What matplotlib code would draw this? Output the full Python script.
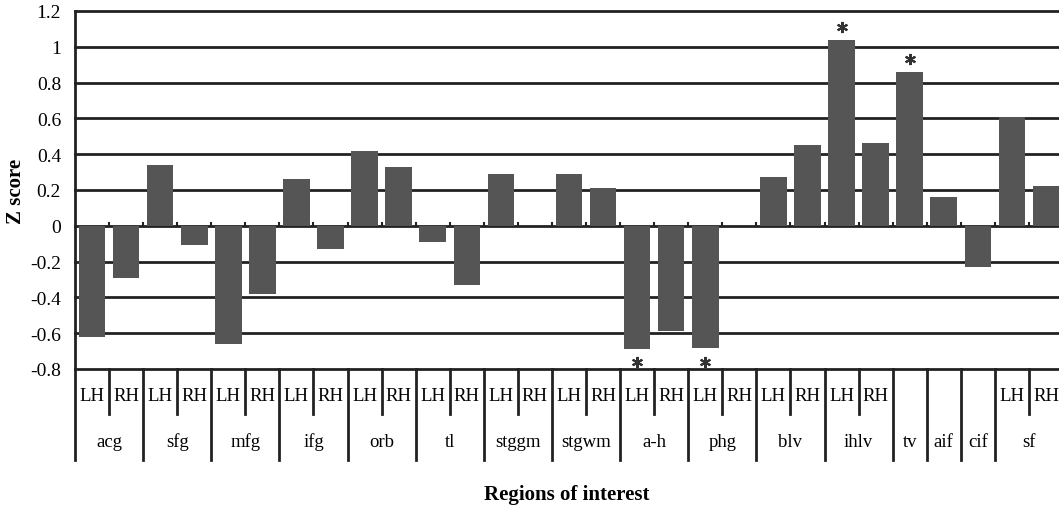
import matplotlib.pyplot as plt

regions = ['acg', 'sfg', 'mfg', 'ifg', 'orb', 'tl', 'stggm', 'stgwm',
           'a-h', 'phg', 'blv', 'ihlv', 'tv', 'aif', 'cif', 'sf']
# hemispheres shown under each region ('' = one unlabeled slot)
hemis = [['LH', 'RH']] * 12 + [['']] * 3 + [['LH', 'RH']]
# one value per slot, None = no bar
values = [-0.62, -0.29, 0.34, -0.11, -0.66, -0.38, 0.26, -0.13,
          0.42, 0.33, -0.09, -0.33, 0.29, None, 0.29, 0.21,
          -0.69, -0.59, -0.68, None, 0.27, 0.45, 1.04, 0.46,
          0.86, 0.16, -0.23, 0.61, 0.22]
starred = [16, 18, 22, 24]  # slots marked with *

yticks = [-0.8, -0.6, -0.4, -0.2, 0, 0.2, 0.4, 0.6, 0.8, 1, 1.2]
ytick_labels = ['-0.8', '-0.6', '-0.4', '-0.2', '0', '0.2', '0.4', '0.6', '0.8', '1', '1.2']

plt.rcParams['font.family'] = ['Liberation Serif', 'DejaVu Serif']
line_col = '#222222'
bar_col = '#555555'
lw = 2.0

W, H = 1059, 510
fig = plt.figure(figsize=(W / 100, H / 100), dpi=100)
ax = fig.add_axes([75 / W, 1 - 370 / H, (1063 - 75) / W, (370 - 12) / H])

n = len(values)
ax.set_xlim(0, n)
ax.set_ylim(-0.8, 1.2)

for y in yticks:
    ax.axhline(y, color=line_col, lw=lw, zorder=1, clip_on=False)

xs = [i + 0.5 for i, v in enumerate(values) if v is not None]
hs = [v for v in values if v is not None]
ax.bar(xs, hs, width=0.78, color=bar_col, zorder=2)

# small ticks on the zero line at each slot boundary
for i in range(1, n):
    ax.plot([i, i], [0, 0.018], color=line_col, lw=1.5, zorder=3)

# significance asterisks: above positive bars, just over the bottom line for negative ones
sx = [i + 0.5 for i in starred]
sy = [values[i] + 0.07 if values[i] > 0 else -0.76 for i in starred]
ax.plot(sx, sy, ls='none', marker=(6, 2, 0), ms=8, mew=1.5, color='#333333', zorder=3,
        clip_on=False)

# table of hemisphere / region labels under the axis
y_hemi, y_short, y_name, y_long = -0.95, -1.052, -1.205, -1.31
pos = 0
ax.plot([0, 0], [-0.8, y_long], color=line_col, lw=lw, clip_on=False)
for name, hs_ in zip(regions, hemis):
    k = len(hs_)
    for j, h in enumerate(hs_):
        if h:
            ax.text(pos + j + 0.5, y_hemi, h, ha='center', va='center', fontsize=13.5, clip_on=False)
        if j > 0:
            ax.plot([pos + j, pos + j], [-0.8, y_short], color=line_col, lw=lw, clip_on=False)
    ax.text(pos + k / 2, y_name, name, ha='center', va='center', fontsize=13.5, clip_on=False)
    pos += k
    ax.plot([pos, pos], [-0.8, y_long], color=line_col, lw=lw, clip_on=False)

ax.set_yticks(yticks)
ax.set_yticklabels(ytick_labels, fontsize=14)
ax.tick_params(axis='y', length=0, pad=10)
ax.set_xticks([])
for s in ['top', 'right', 'bottom']:
    ax.spines[s].set_visible(False)
ax.spines['left'].set_color(line_col)
ax.spines['left'].set_linewidth(lw)

ax.set_ylabel('Z score', fontsize=15, fontweight='bold')
ax.yaxis.set_label_coords(-49 / 988, 0.5)
fig.text(567 / W, 1 - 495 / H, 'Regions of interest', ha='center', va='center',
         fontsize=15, fontweight='bold')

fig.savefig('out.png', dpi=100)
